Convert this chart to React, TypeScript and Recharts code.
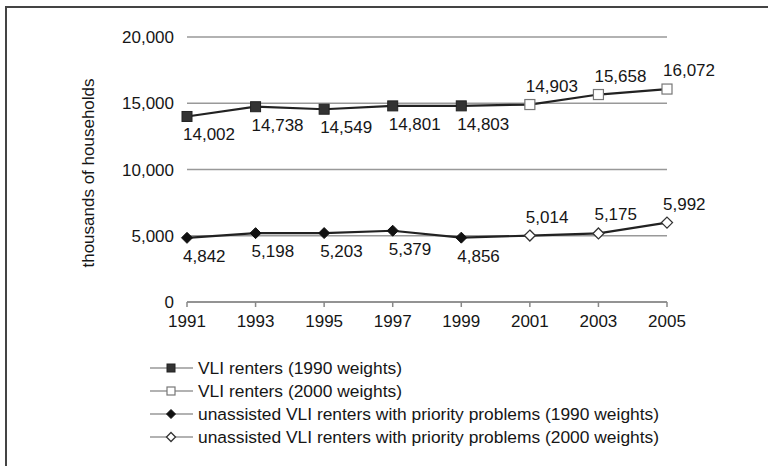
import React from "react";
import { LineChart, Line, XAxis, YAxis, CartesianGrid } from "recharts";

const years = [1991, 1993, 1995, 1997, 1999, 2001, 2003, 2005];
const vliRenters1990 = [14002, 14738, 14549, 14801, 14803, null, null, null];
const vliRenters2000 = [null, null, null, null, null, 14903, 15658, 16072];
const unassisted1990 = [4842, 5198, 5203, 5379, 4856, null, null, null];
const unassisted2000 = [null, null, null, null, null, 5014, 5175, 5992];
const yTicks = [0, 5000, 10000, 15000, 20000];
const yTitle = "thousands of households";
const legendLabels = [
  "VLI renters (1990 weights)",
  "VLI renters (2000 weights)",
  "unassisted VLI renters with priority problems (1990 weights)",
  "unassisted VLI renters with priority problems (2000 weights)",
];

const data = years.map((year, i) => ({
  year,
  vli1990: vliRenters1990[i],
  vli2000: vliRenters2000[i],
  vliAll: vliRenters1990[i] ?? vliRenters2000[i],
  un1990: unassisted1990[i],
  un2000: unassisted2000[i],
  unAll: unassisted1990[i] ?? unassisted2000[i],
}));

const FONT = '"Liberation Sans", Arial, sans-serif';
const FS = 17;
const LEGEND_FS = 17.4;
const TEXT = "#161616";
const LINE = "#222";
const fmt = (v: number) => v.toLocaleString("en-US");

type Shape = "sqFill" | "sqOpen" | "diFill" | "diOpen";

const marker = (shape: Shape, cx: number, cy: number, s: number, key?: string) => {
  const h = s / 2;
  if (shape === "sqFill")
    return <rect key={key} x={cx - h} y={cy - h} width={s} height={s} fill="#333" stroke="#222" strokeWidth={1} />;
  if (shape === "sqOpen")
    return <rect key={key} x={cx - h} y={cy - h} width={s} height={s} fill="#fff" stroke="#777" strokeWidth={1.2} />;
  const r = h + 0.5;
  const pts = `${cx},${cy - r} ${cx + r},${cy} ${cx},${cy + r} ${cx - r},${cy}`;
  if (shape === "diFill") return <polygon key={key} points={pts} fill="#111" stroke="#111" strokeWidth={1} />;
  return <polygon key={key} points={pts} fill="#fff" stroke="#333" strokeWidth={1.3} />;
};

const makeDot = (shape: Shape) => (props: any) => {
  const { cx, cy, index, value } = props;
  if (cy == null || cx == null || value == null || (Array.isArray(value) && value[1] == null))
    return <g key={`e-${index}`} />;
  return marker(shape, cx, cy, 10, `d-${index}`);
};

const makeLabel = (below: boolean) => (props: any) => {
  const { x, y, value, index } = props;
  if (value == null || y == null || x == null) return <g key={`l-${index}`} />;
  return (
    <text
      key={`l-${index}`}
      x={x - 4}
      y={below ? y + 24 : y - 13}
      textAnchor="start"
      fontSize={FS}
      fontFamily={FONT}
      fill={TEXT}
    >
      {fmt(value)}
    </text>
  );
};

const legendShapes: Shape[] = ["sqFill", "sqOpen", "diFill", "diOpen"];

export default function App() {
  return (
    <div
      style={{
        position: "absolute",
        left: 0,
        top: 0,
        width: 768,
        height: 466,
        overflow: "hidden",
        background: "#fff",
        fontFamily: FONT,
      }}
    >
      <div
        style={{
          position: "absolute",
          left: 5,
          top: 6,
          width: 900,
          height: 600,
          borderTop: "2px solid #444",
          borderLeft: "2px solid #444",
        }}
      />
      <div style={{ position: "absolute", left: 0, top: 0 }}>
        <LineChart
          width={768}
          height={466}
          data={data}
          margin={{ top: 37, right: 101, left: 117, bottom: 134 }}
        >
          <CartesianGrid horizontal vertical={false} stroke="#999" strokeWidth={1.5} />
          <XAxis
            dataKey="year"
            type="number"
            domain={[1991, 2005]}
            ticks={years}
            height={30}
            stroke="#888"
            strokeWidth={1.5}
            tickSize={5}
            tickMargin={8}
            tick={{ fill: TEXT, fontSize: FS, fontFamily: FONT }}
            allowDecimals={false}
          />
          <YAxis
            domain={[0, 20000]}
            ticks={yTicks}
            width={70}
            axisLine={false}
            tickLine={false}
            tickSize={0}
            tickMargin={13}
            tickFormatter={fmt}
            tick={{ fill: TEXT, fontSize: FS, fontFamily: FONT }}
          />
          <Line dataKey="vliAll" stroke={LINE} strokeWidth={2.2} dot={false} isAnimationActive={false} />
          <Line dataKey="unAll" stroke={LINE} strokeWidth={2.2} dot={false} isAnimationActive={false} />
          <Line
            dataKey="vli1990"
            stroke="none"
            dot={makeDot("sqFill")}
            activeDot={false}
            label={makeLabel(true)}
            isAnimationActive={false}
          />
          <Line
            dataKey="vli2000"
            stroke="none"
            dot={makeDot("sqOpen")}
            activeDot={false}
            label={makeLabel(false)}
            isAnimationActive={false}
          />
          <Line
            dataKey="un1990"
            stroke="none"
            dot={makeDot("diFill")}
            activeDot={false}
            label={makeLabel(true)}
            isAnimationActive={false}
          />
          <Line
            dataKey="un2000"
            stroke="none"
            dot={makeDot("diOpen")}
            activeDot={false}
            label={makeLabel(false)}
            isAnimationActive={false}
          />
        </LineChart>
      </div>
      <svg
        width={768}
        height={466}
        style={{ position: "absolute", left: 0, top: 0, pointerEvents: "none" }}
      >
        <text
          x={0}
          y={0}
          transform="translate(94,173) rotate(-90)"
          textAnchor="middle"
          fontSize={FS}
          fontFamily={FONT}
          fill={TEXT}
        >
          {yTitle}
        </text>
        {legendLabels.map((lab, i) => {
          const y = 368 + i * 23;
          return (
            <g key={lab}>
              <line x1={150} x2={193} y1={y} y2={y} stroke="#666" strokeWidth={1.2} />
              {marker(legendShapes[i], 171, y, 8)}
              <text x={198} y={y + 6} fontSize={LEGEND_FS} fontFamily={FONT} fill={TEXT}>
                {lab}
              </text>
            </g>
          );
        })}
      </svg>
    </div>
  );
}
